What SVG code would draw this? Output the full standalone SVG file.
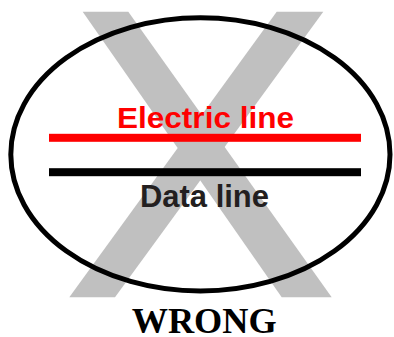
<svg xmlns="http://www.w3.org/2000/svg" width="394" height="337" viewBox="0 0 394 337">
<style>
.x{fill:#c0c0c0}
.sans{font-family:"Liberation Sans",Arial,sans-serif;font-weight:bold}
.serif{font-family:"Liberation Serif","Times New Roman",serif;font-weight:bold}
</style>
<rect width="394" height="337" fill="#ffffff"/>
<g id="cross">
<polygon class="x" points="82.7,11.7 128.3,11.7 331.7,297.3 281.7,297.3"/>
<polygon class="x" points="276.7,11.7 323.3,11.7 115,297.3 69.3,297.3"/>
</g>
<g id="frame">
<ellipse cx="200.4" cy="154.4" rx="189.6" ry="136.6" fill="none" stroke="#000" stroke-width="5"/>
</g>
<g id="connectors">
<rect id="electric-line" x="49" y="133.8" width="312" height="8" fill="#ff0000"/>
<rect id="data-line" x="49" y="168.2" width="312" height="8" fill="#000000"/>
</g>
<g id="electric-label">
<text class="sans" x="117" y="127.5" font-size="29.5" fill="#ff0000" textLength="177" lengthAdjust="spacingAndGlyphs">Electric line</text>
</g>
<g id="data-label">
<text class="sans" x="140" y="207.3" font-size="31" fill="#231f20" textLength="129" lengthAdjust="spacingAndGlyphs">Data line</text>
</g>
<g id="wrong-label">
<text class="serif" x="131.7" y="332.7" font-size="36.5" fill="#000" textLength="145" lengthAdjust="spacingAndGlyphs">WRONG</text>
</g>
</svg>
